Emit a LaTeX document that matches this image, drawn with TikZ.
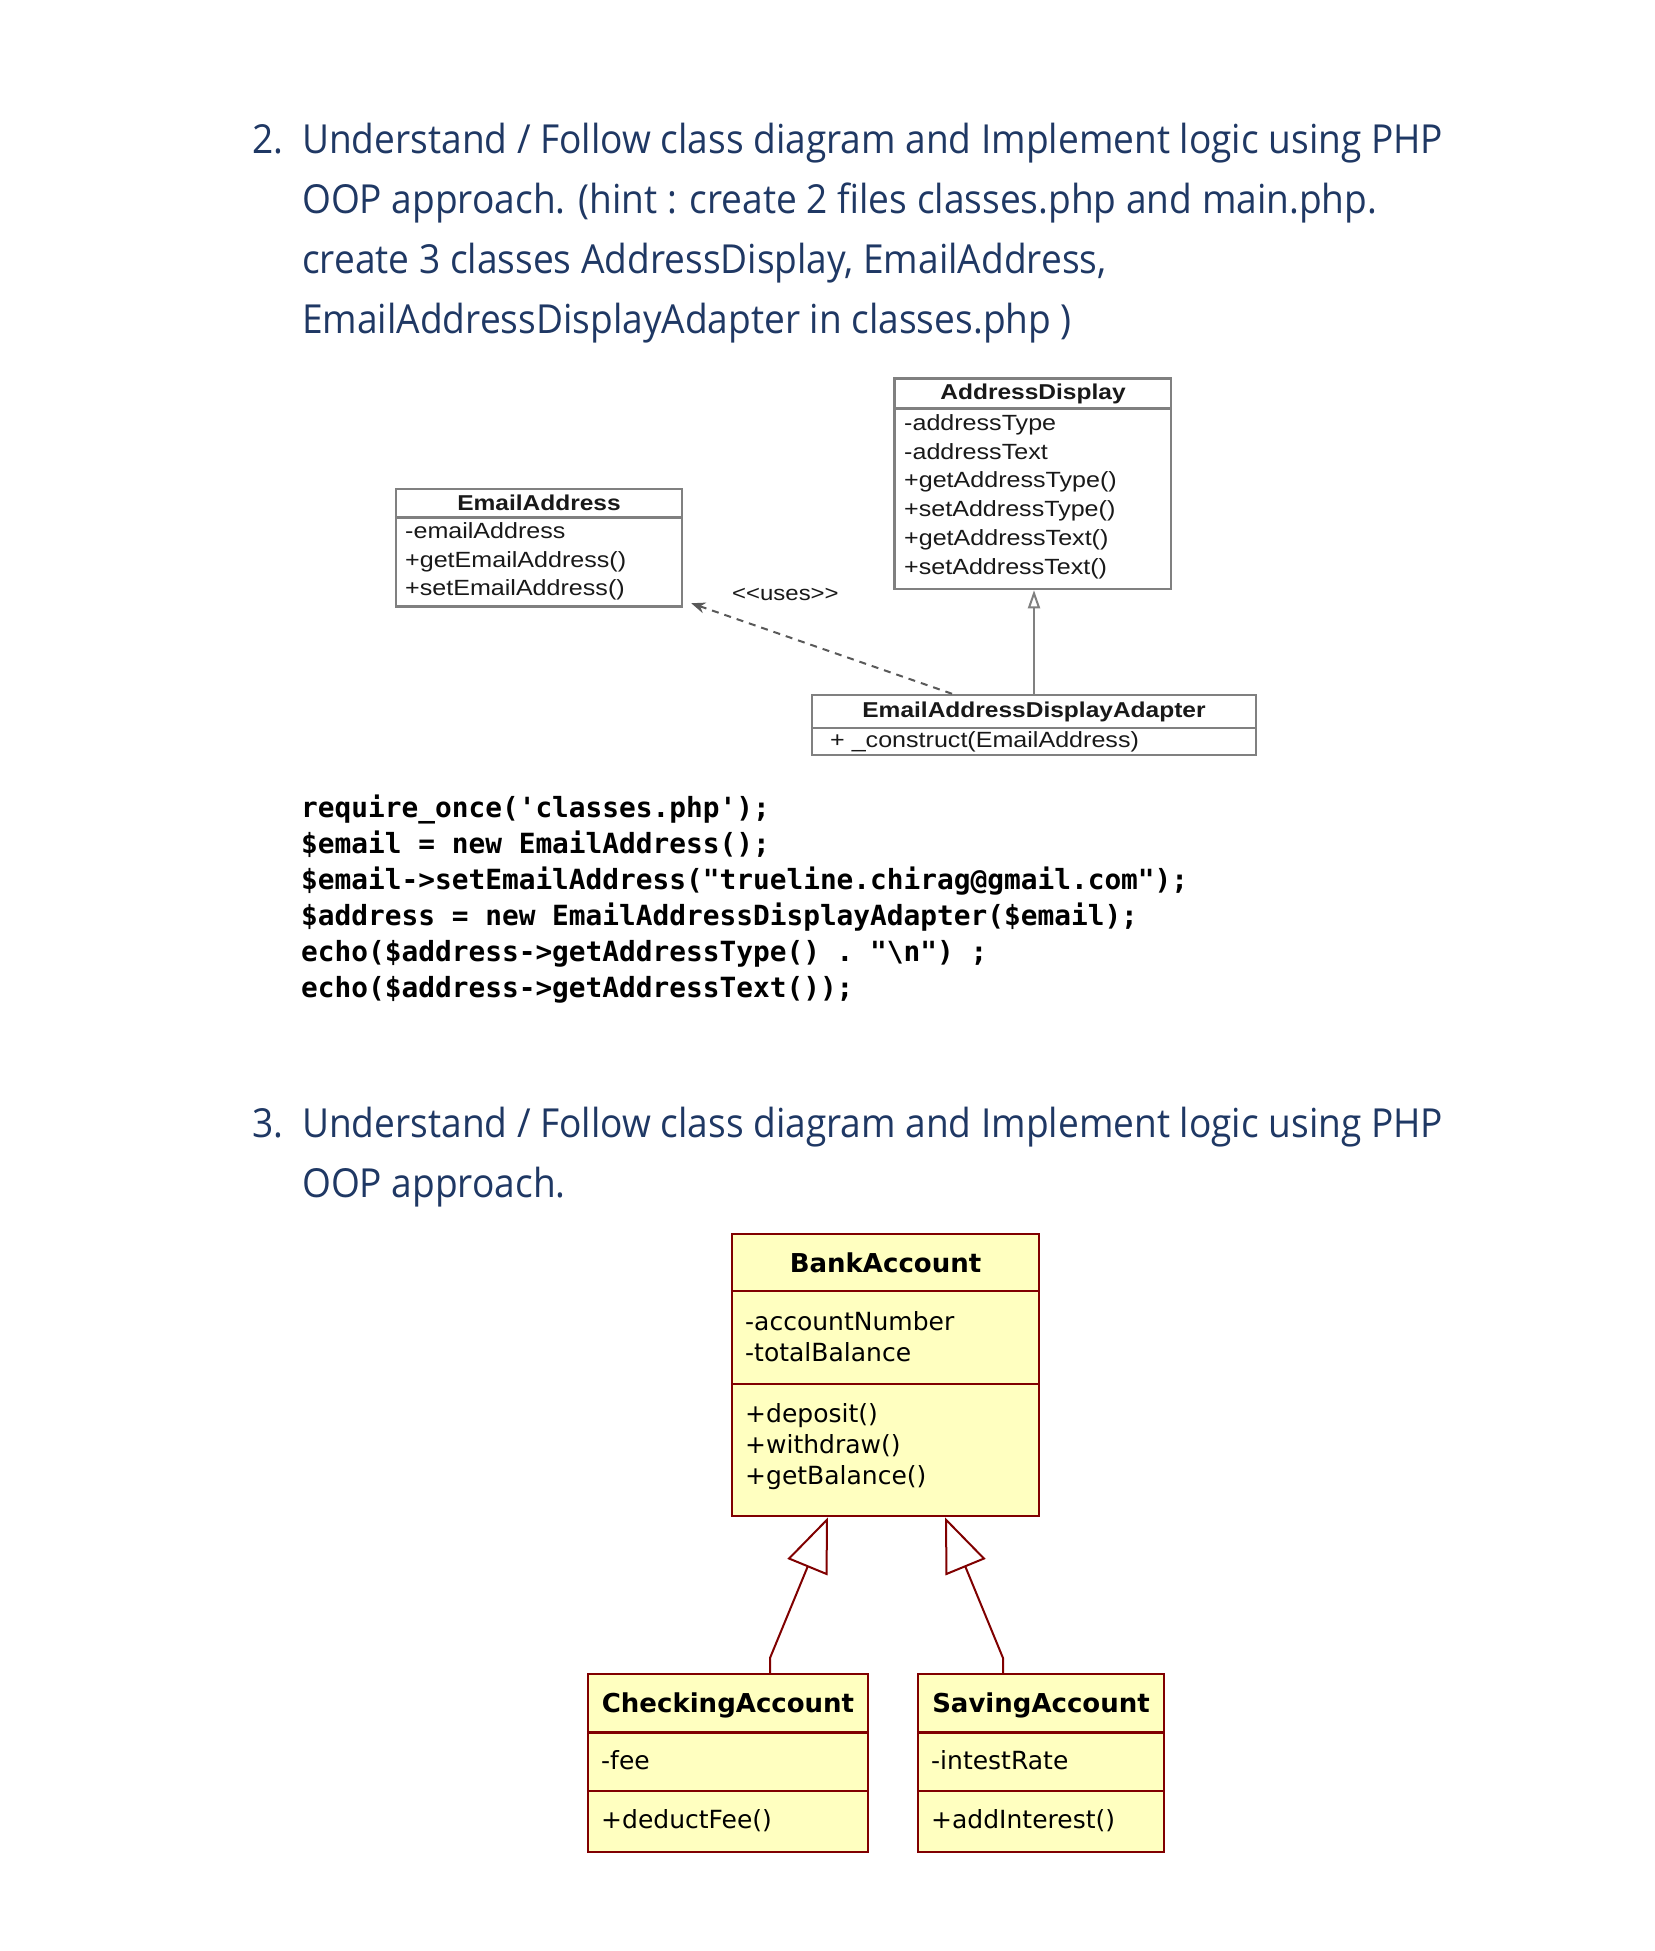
\documentclass[tikz,border=0pt]{standalone}
\usepackage{fontspec}
\setmonofont{DejaVu Sans Mono}
\newfontfamily\headingfont[FakeStretch=0.927]{Open Sans}
\newfontfamily\umlfont[FakeStretch=1.14]{Liberation Sans}
\newfontfamily\bankfont{DejaVu Sans}
\usetikzlibrary{arrows.meta}

\definecolor{headblue}{HTML}{1F3864}
\definecolor{umlgrey}{RGB}{128,128,128}
\definecolor{bankred}{RGB}{128,0,0}
\definecolor{bankyellow}{HTML}{FFFFC0}

\tikzset{
  heading/.style={anchor=base west, inner sep=0pt, text=headblue,
    font=\headingfont\fontsize{40}{60}\selectfont},
  codeline/.style={anchor=base west, inner sep=0pt,
    font=\ttfamily\bfseries\fontsize{27.8}{36}\selectfont},
  greybox/.style={draw=umlgrey, line width=2.5pt, fill=white, inner sep=0pt},
  greyrule/.style={draw=umlgrey, line width=2.5pt},
  greytitle/.style={anchor=base, inner sep=0pt, text=black!90,
    font=\umlfont\bfseries\fontsize{21.5}{26}\selectfont},
  greyitem/.style={anchor=base west, inner sep=0pt, text=black!90,
    font=\umlfont\fontsize{22}{26}\selectfont},
  greygen/.style={draw=umlgrey, line width=2pt,
    -{Triangle[open,length=18pt,width=12pt]}},
  usesline/.style={draw=black!65, line width=2pt,
    dash pattern=on 7pt off 6pt, -{Stealth[length=14pt,width=11pt]}},
  bankbox/.style={draw=bankred, line width=2.5pt, fill=bankyellow, inner sep=0pt},
  bankrule/.style={draw=bankred, line width=2.5pt},
  banktitle/.style={anchor=base, inner sep=0pt,
    font=\bankfont\bfseries\fontsize{26}{30}\selectfont},
  bankitem/.style={anchor=base west, inner sep=0pt,
    font=\bankfont\fontsize{25}{30}\selectfont},
  bankgen/.style={draw=bankred, line width=2pt,
    -{Triangle[open,length=54pt,width=43pt]}}
}

\begin{document}
\begin{tikzpicture}[x=1pt,y=-1pt]
\useasboundingbox (0,0) rectangle (1654,1951);
\fill[white] (0,0) rectangle (1654,1951);

% task 2
\node[heading] (num2) at (252,153) {2.};
\node[heading] (head2a) at (302,153) {Understand / Follow class diagram and Implement logic using PHP};
\node[heading] (head2b) at (302,213) {OOP approach. (hint : create 2 files classes.php and main.php.};
\node[heading] (head2c) at (302,273) {create 3 classes AddressDisplay, EmailAddress,};
\node[heading] (head2d) at (302,333) {EmailAddressDisplayAdapter in classes.php )};

% class diagram 1
\node[greybox, minimum width=286pt, minimum height=117.5pt] (email) at (539,547.75) {};
\draw[greyrule] (email.west |- 0,517.5) -- (email.east |- 0,517.5);
\node[greytitle] (email-title) at (539,510) {EmailAddress};
\node[greyitem] (email-1) at (405,538) {-emailAddress};
\node[greyitem] (email-2) at (405,567) {+getEmailAddress()};
\node[greyitem] (email-3) at (405,595.5) {+setEmailAddress()};

\node[greybox, minimum width=276.5pt, minimum height=210.5pt] (addr) at (1032.75,483.75) {};
\draw[greyrule] (addr.west |- 0,408.5) -- (addr.east |- 0,408.5);
\node[greytitle] (addr-title) at (1033,399.5) {AddressDisplay};
\node[greyitem] (addr-1) at (904,430) {-addressType};
\node[greyitem] (addr-2) at (904,459) {-addressText};
\node[greyitem] (addr-3) at (904,487.5) {+getAddressType()};
\node[greyitem] (addr-4) at (904,516.5) {+setAddressType()};
\node[greyitem] (addr-5) at (904,545.5) {+getAddressText()};
\node[greyitem] (addr-6) at (904,574.5) {+setAddressText()};

\node[greybox, minimum width=444pt, minimum height=60pt] (adapter) at (1034,725) {};
\draw[greyrule] (adapter.west |- 0,728) -- (adapter.east |- 0,728);
\node[greytitle] (adapter-title) at (1034,717.5) {EmailAddressDisplayAdapter};
\node[greyitem] (adapter-1) at (830,747) {+ \_construct(EmailAddress)};

\draw[greygen] (adapter.north) -- (adapter.north |- addr.south);
\draw[usesline] ([xshift=-82pt]adapter.north) -- ([xshift=8pt,yshift=4.5pt]email.south east);
\node[greyitem, font=\umlfont\fontsize{21}{24}\selectfont] (uses) at (732,600) {<\kern0pt<uses>\kern0pt>};

% main.php
\node[codeline] (code1) at (301,817) {require\_once('classes.php');};
\node[codeline] (code2) at (301,853) {\$email = new EmailAddress();};
\node[codeline] (code3) at (301,889) {\$email->setEmailAddress("trueline.chirag@gmail.com");};
\node[codeline] (code4) at (301,925) {\$address = new EmailAddressDisplayAdapter(\$email);};
\node[codeline] (code5) at (301,961) {echo(\$address->getAddressType() . "\textbackslash n") ;};
\node[codeline] (code6) at (301,997) {echo(\$address->getAddressText());};

% task 3
\node[heading] (num3) at (252,1137) {3.};
\node[heading] (head3a) at (302,1137) {Understand / Follow class diagram and Implement logic using PHP};
\node[heading] (head3b) at (302,1197) {OOP approach.};

% class diagram 2
\node[bankbox, minimum width=307pt, minimum height=282pt] (bank) at (885.5,1375) {};
\draw[bankrule] (bank.west |- 0,1291) -- (bank.east |- 0,1291);
\draw[bankrule] (bank.west |- 0,1384) -- (bank.east |- 0,1384);
\node[banktitle] (bank-title) at (885.5,1272) {BankAccount};
\node[bankitem] (bank-1) at (745,1330) {-accountNumber};
\node[bankitem] (bank-2) at (745,1361.5) {-totalBalance};
\node[bankitem] (bank-3) at (745,1422) {+deposit()};
\node[bankitem] (bank-4) at (745,1453) {+withdraw()};
\node[bankitem] (bank-5) at (745,1484) {+getBalance()};

\node[bankbox, minimum width=280pt, minimum height=178pt] (check) at (728,1763) {};
\draw[bankrule] (check.west |- 0,1732.5) -- (check.east |- 0,1732.5);
\draw[bankrule] (check.west |- 0,1791) -- (check.east |- 0,1791);
\node[banktitle] (check-title) at (728,1712) {CheckingAccount};
\node[bankitem] (check-1) at (601,1769.5) {-fee};
\node[bankitem] (check-2) at (601,1828) {+deductFee()};

\node[bankbox, minimum width=246pt, minimum height=178pt] (saving) at (1041,1763) {};
\draw[bankrule] (saving.west |- 0,1732.5) -- (saving.east |- 0,1732.5);
\draw[bankrule] (saving.west |- 0,1791) -- (saving.east |- 0,1791);
\node[banktitle] (saving-title) at (1041,1712) {SavingAccount};
\node[bankitem] (saving-1) at (931,1769.5) {-intestRate};
\node[bankitem] (saving-2) at (931,1828) {+addInterest()};

\coordinate (checkbend) at (770,1658);
\coordinate (savingbend) at (1003,1658);
\draw[bankgen] (check.north -| checkbend) -- (checkbend) -- ([xshift=-57.5pt]bank.south);
\draw[bankgen] (saving.north -| savingbend) -- (savingbend) -- ([xshift=59.5pt]bank.south);
\end{tikzpicture}
\end{document}
